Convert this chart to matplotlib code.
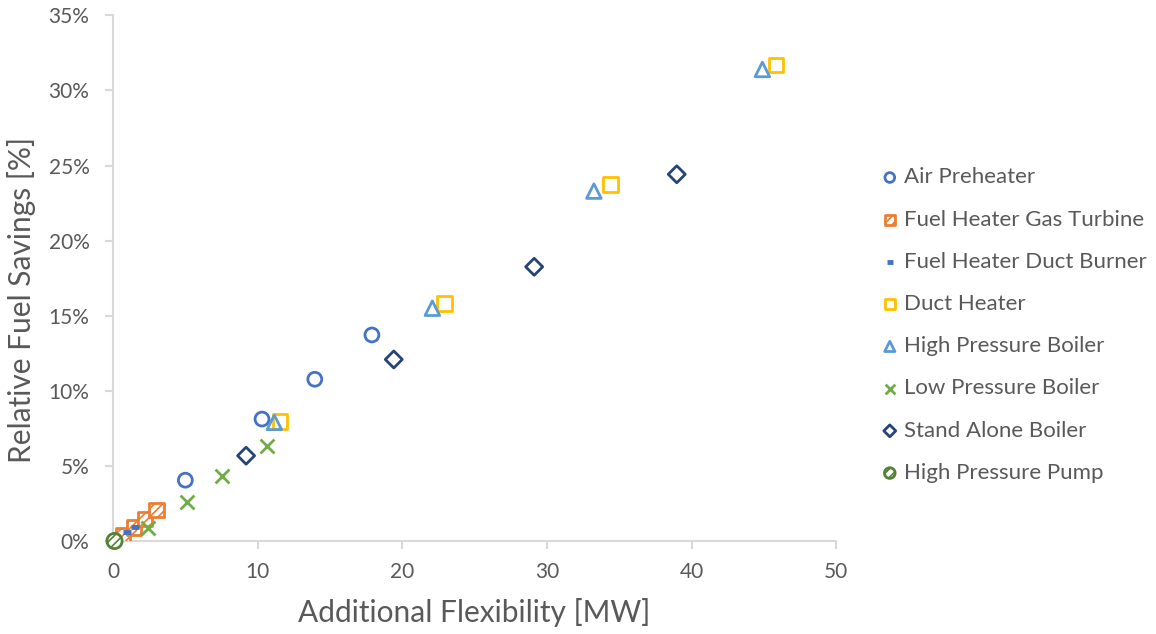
import matplotlib
matplotlib.use("Agg")
import matplotlib.pyplot as plt
from matplotlib.ticker import FuncFormatter, MultipleLocator

plt.rcParams['font.family'] = ['Lato', 'DejaVu Sans']
plt.rcParams['hatch.linewidth'] = 1.2

# flexibility [MW] vs relative fuel savings [%]
air_preheater_x = [5.0, 10.3, 13.95, 17.9]
air_preheater_y = [4.05, 8.12, 10.77, 13.72]

fh_gas_turbine_x = [0.7, 1.45, 2.2, 3.0]
fh_gas_turbine_y = [0.4, 0.9, 1.46, 2.05]

fh_duct_burner_x = [0.95, 1.52]
fh_duct_burner_y = [0.62, 0.91]

duct_heater_x = [11.55, 22.9, 34.4, 45.85]
duct_heater_y = [7.94, 15.82, 23.73, 31.7]

hp_boiler_x = [11.15, 22.08, 33.25, 44.9]
hp_boiler_y = [7.9, 15.5, 23.3, 31.4]

lp_boiler_x = [2.4, 5.12, 7.56, 10.67]
lp_boiler_y = [0.84, 2.62, 4.3, 6.32]

sa_boiler_x = [9.2, 19.41, 29.12, 38.98]
sa_boiler_y = [5.68, 12.09, 18.26, 24.42]

hp_pump_x = [0.1]
hp_pump_y = [0.0]

text_grey = "#595959"
axis_grey = "#D9D9D9"

fig = plt.figure(figsize=(11.56, 6.34), dpi=100)
ax = fig.add_axes([0.0978, 0.1467, 0.6255, 0.829])

ms = 100
lw = 2.0
ax.scatter(air_preheater_x, air_preheater_y, s=ms, marker='o', facecolors='none',
           edgecolors="#4472C4", linewidths=lw, label="Air Preheater", zorder=3)
ax.scatter(fh_gas_turbine_x, fh_gas_turbine_y, s=ms * 1.1, marker='s', facecolors='white',
           edgecolors="#ED7D31", linewidths=lw, hatch='////',
           label="Fuel Heater Gas Turbine", zorder=3)
ax.scatter(fh_duct_burner_x, fh_duct_burner_y, s=40, marker='_', color="#4472C4",
           linewidths=3.5, label="Fuel Heater Duct Burner", zorder=4)
ax.scatter(duct_heater_x, duct_heater_y, s=ms * 1.1, marker='s', facecolors='none',
           edgecolors="#FFC000", linewidths=lw, label="Duct Heater", zorder=3)
ax.scatter(hp_boiler_x, hp_boiler_y, s=ms * 1.1, marker='^', facecolors='none',
           edgecolors="#5B9BD5", linewidths=lw, label="High Pressure Boiler", zorder=3)
ax.scatter(lp_boiler_x, lp_boiler_y, s=ms, marker='x', color="#70AD47",
           linewidths=lw, label="Low Pressure Boiler", zorder=3)
ax.scatter(sa_boiler_x, sa_boiler_y, s=ms * 0.75, marker='D', facecolors='none',
           edgecolors="#264478", linewidths=lw, label="Stand Alone Boiler", zorder=3)
ax.scatter(hp_pump_x, hp_pump_y, s=ms * 1.2, marker='o', facecolors='white',
           edgecolors="#548235", linewidths=lw, hatch='////',
           label="High Pressure Pump", zorder=5, clip_on=False)

ax.set_xlim(0, 50)
ax.set_ylim(0, 35)
ax.xaxis.set_major_locator(MultipleLocator(10))
ax.yaxis.set_major_locator(MultipleLocator(5))
ax.yaxis.set_major_formatter(FuncFormatter(lambda v, _: f"{v:.0f}%"))

for side in ("top", "right"):
    ax.spines[side].set_visible(False)
for side in ("left", "bottom"):
    ax.spines[side].set_color(axis_grey)
    ax.spines[side].set_linewidth(1.5)
ax.tick_params(axis='both', colors=axis_grey, width=1.5, length=6,
               labelcolor=text_grey, labelsize=15)
ax.tick_params(axis='x', pad=9)
ax.tick_params(axis='y', pad=11)

ax.set_xlabel("Additional Flexibility [MW]", fontsize=21.5, color=text_grey)
ax.set_ylabel("Relative Fuel Savings [%]", fontsize=21.5, color=text_grey)
ax.xaxis.set_label_coords(0.5, -0.108)
ax.yaxis.set_label_coords(-0.1065, 0.458)

ax.legend(loc='center left', bbox_to_anchor=(1.065, 0.4107), frameon=False,
          fontsize=16, labelcolor=text_grey, handlelength=0.6,
          handletextpad=0.35, labelspacing=1.0, markerscale=0.7,
          borderaxespad=0, borderpad=0)

fig.savefig("out.png", dpi=100)
